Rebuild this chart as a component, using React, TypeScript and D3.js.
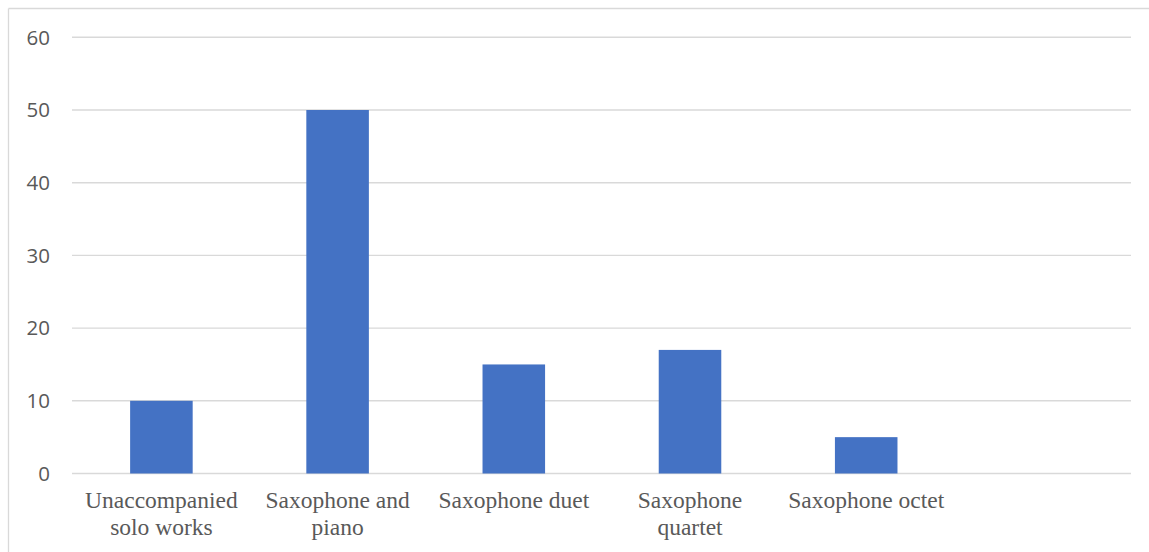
import React from "react";
import * as d3 from "d3";

const categories = [
  "Unaccompanied solo works",
  "Saxophone and piano",
  "Saxophone duet",
  "Saxophone quartet",
  "Saxophone octet",
  "",
];
const labelLines = [
  ["Unaccompanied", "solo works"],
  ["Saxophone and", "piano"],
  ["Saxophone duet"],
  ["Saxophone", "quartet"],
  ["Saxophone octet"],
  [],
];
const values: (number | null)[] = [10, 50, 15, 17, 5, null];
const yTicks = [0, 10, 20, 30, 40, 50, 60];

export default function App() {
  const W = 1149;
  const H = 552;
  const gridLeft = 72;
  const gridRight = 1131;
  const top = 37.3;
  const bottom = 473.5;

  const x = d3
    .scaleBand<string>()
    .domain(categories.map((c, i) => String(i)))
    .range([73.3, 1130.5])
    .paddingInner(0.645)
    .paddingOuter(0.3225);
  const y = d3.scaleLinear().domain([0, 60]).range([bottom, top]);

  return (
    <svg
      width={W}
      height={H}
      style={{ position: "absolute", left: 0, top: 0, background: "#fff" }}
    >
      <rect x={0} y={0} width={W} height={H} fill="#fff" />
      <line x1={8.5} y1={8.5} x2={W} y2={8.5} stroke="#d9d9d9" strokeWidth={1.3} />
      <line x1={8.5} y1={8.5} x2={8.5} y2={H} stroke="#d9d9d9" strokeWidth={1.3} />
      {yTicks.map((t) => (
        <g key={t}>
          <line
            x1={gridLeft}
            x2={gridRight}
            y1={y(t)}
            y2={y(t)}
            stroke="#d9d9d9"
            strokeWidth={1.4}
          />
          <text
            x={50}
            y={y(t)}
            dy="0.36em"
            textAnchor="end"
            fontFamily="'Open Sans', sans-serif"
            fontSize={20.5}
            fill="#595959"
          >
            {t}
          </text>
        </g>
      ))}
      {values.map((v, i) =>
        v == null ? null : (
          <rect
            key={i}
            x={x(String(i))}
            y={y(v)}
            width={x.bandwidth()}
            height={y(0) - y(v)}
            fill="#4472C4"
          />
        )
      )}
      {labelLines.map((lines, i) => (
        <text
          key={i}
          textAnchor="middle"
          fontFamily="'Liberation Serif', 'Times New Roman', serif"
          fontSize={23.5}
          fill="#595959"
        >
          {lines.map((ln, j) => (
            <tspan key={j} x={(x(String(i)) as number) + x.bandwidth() / 2} y={508 + j * 27}>
              {ln}
            </tspan>
          ))}
        </text>
      ))}
    </svg>
  );
}
